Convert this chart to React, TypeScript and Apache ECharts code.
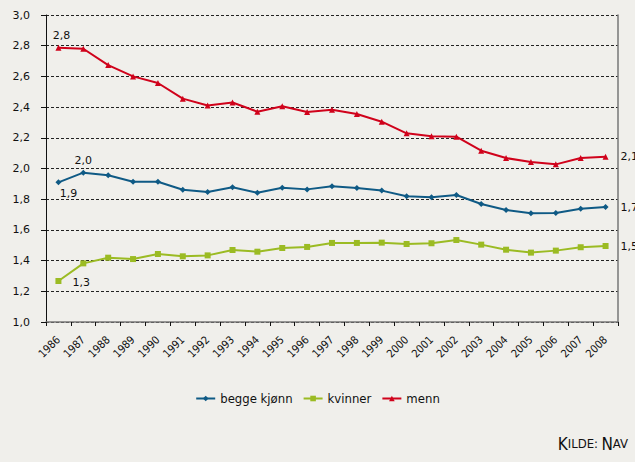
import React, { useEffect, useRef } from "react";
import * as echarts from "echarts";

const years = ["1986","1987","1988","1989","1990","1991","1992","1993","1994","1995","1996","1997","1998","1999","2000","2001","2002","2003","2004","2005","2006","2007","2008"];
const begge = [1.91,1.973,1.956,1.914,1.914,1.862,1.847,1.878,1.842,1.875,1.864,1.884,1.873,1.856,1.819,1.812,1.827,1.769,1.73,1.708,1.71,1.738,1.749];
const kvinner = [1.267,1.382,1.419,1.41,1.443,1.428,1.434,1.469,1.458,1.482,1.489,1.515,1.515,1.517,1.508,1.513,1.534,1.504,1.471,1.452,1.465,1.487,1.495];
const menn = [2.787,2.78,2.674,2.6,2.557,2.455,2.41,2.43,2.37,2.405,2.368,2.383,2.355,2.305,2.229,2.21,2.207,2.116,2.068,2.042,2.027,2.068,2.077];

const fmt = (v: number) => v.toFixed(1).replace(".", ",");
const labelFont = { fontFamily: "DejaVu Sans", fontSize: 11, color: "#111" };

function withLabels(values: number[], labels: Record<number, any>) {
  return values.map((v, i) =>
    labels[i] ? { value: v, label: { show: true, formatter: fmt(v), ...labelFont, ...labels[i] } } : v
  );
}

export default function App() {
  const ref = useRef<HTMLDivElement>(null);
  useEffect(() => {
    const chart = echarts.init(ref.current!, undefined, { renderer: "svg" });
    const cond = "'Liberation Sans Narrow', 'DejaVu Sans Condensed', sans-serif";
    chart.setOption({
      animation: false,
      backgroundColor: "#f0efeb",
      grid: { left: 46, right: 17, top: 15, bottom: 140, containLabel: false },
      xAxis: {
        type: "category",
        data: years,
        boundaryGap: true,
        axisLine: { lineStyle: { color: "#777", width: 1.5 } },
        axisTick: { show: true, length: 4, lineStyle: { color: "#111" }, alignWithLabel: false },
        axisLabel: { rotate: 45, fontFamily: cond, fontSize: 11, color: "#111", margin: 16, interval: 0 },
        splitLine: { show: false },
      },
      yAxis: [
        {
          type: "value",
          min: 1,
          max: 3,
          interval: 0.2,
          axisLine: { show: true, lineStyle: { color: "#111" } },
          axisTick: { show: true, length: 5, lineStyle: { color: "#111" } },
          axisLabel: { formatter: (v: number) => fmt(v), fontFamily: "DejaVu Sans", fontSize: 11, color: "#111", margin: 16 },
          splitLine: { show: true, lineStyle: { color: "#222", type: [3, 2], width: 1 } },
        },
        {
          type: "value",
          min: 1,
          max: 3,
          interval: 0.2,
          position: "right",
          axisLine: { show: true, lineStyle: { color: "#777", width: 1.5 } },
          axisTick: { show: false },
          axisLabel: { show: false },
          splitLine: { show: false },
        },
      ],
      legend: {
        bottom: 52,
        left: "center",
        itemWidth: 19,
        itemHeight: 7,
        itemGap: 10,
        textStyle: { fontFamily: cond, fontSize: 13, color: "#111" },
        data: ["begge kjønn", "kvinner", "menn"],
      },
      series: [
        {
          name: "begge kjønn",
          type: "line",
          data: withLabels(begge, {
            0: { position: "bottom", offset: [10, -2] },
            1: { position: "top", distance: 4 },
            22: { position: "right", distance: 12 },
          }),
          color: "#0f5a85",
          symbol: "diamond",
          symbolSize: 6,
          lineStyle: { width: 2 },
        },
        {
          name: "kvinner",
          type: "line",
          data: withLabels(kvinner, {
            0: { position: "right", distance: 11, offset: [0, 1] },
            22: { position: "right", distance: 12 },
          }),
          color: "#9bbb23",
          symbol: "rect",
          symbolSize: 6,
          lineStyle: { width: 2 },
        },
        {
          name: "menn",
          type: "line",
          data: withLabels(menn, {
            0: { position: "top", distance: 4, offset: [3, 0] },
            22: { position: "right", distance: 12 },
          }),
          color: "#d0021b",
          symbol: "triangle",
          symbolSize: 6,
          lineStyle: { width: 2 },
        },
      ],
      graphic: [
        {
          type: "text",
          right: 7,
          top: 435,
          style: {
            text: "{b|K}{s|ILDE:} {b|N}{s|AV}",
            rich: {
              b: { fontFamily: cond, fontSize: 17, fill: "#111", fontWeight: "normal" },
              s: { fontFamily: cond, fontSize: 13, fill: "#111" },
            },
          },
        },
      ],
    });
    return () => chart.dispose();
  }, []);
  return <div ref={ref} style={{ position: "fixed", left: 0, top: 0, width: 635, height: 462 }} />;
}
